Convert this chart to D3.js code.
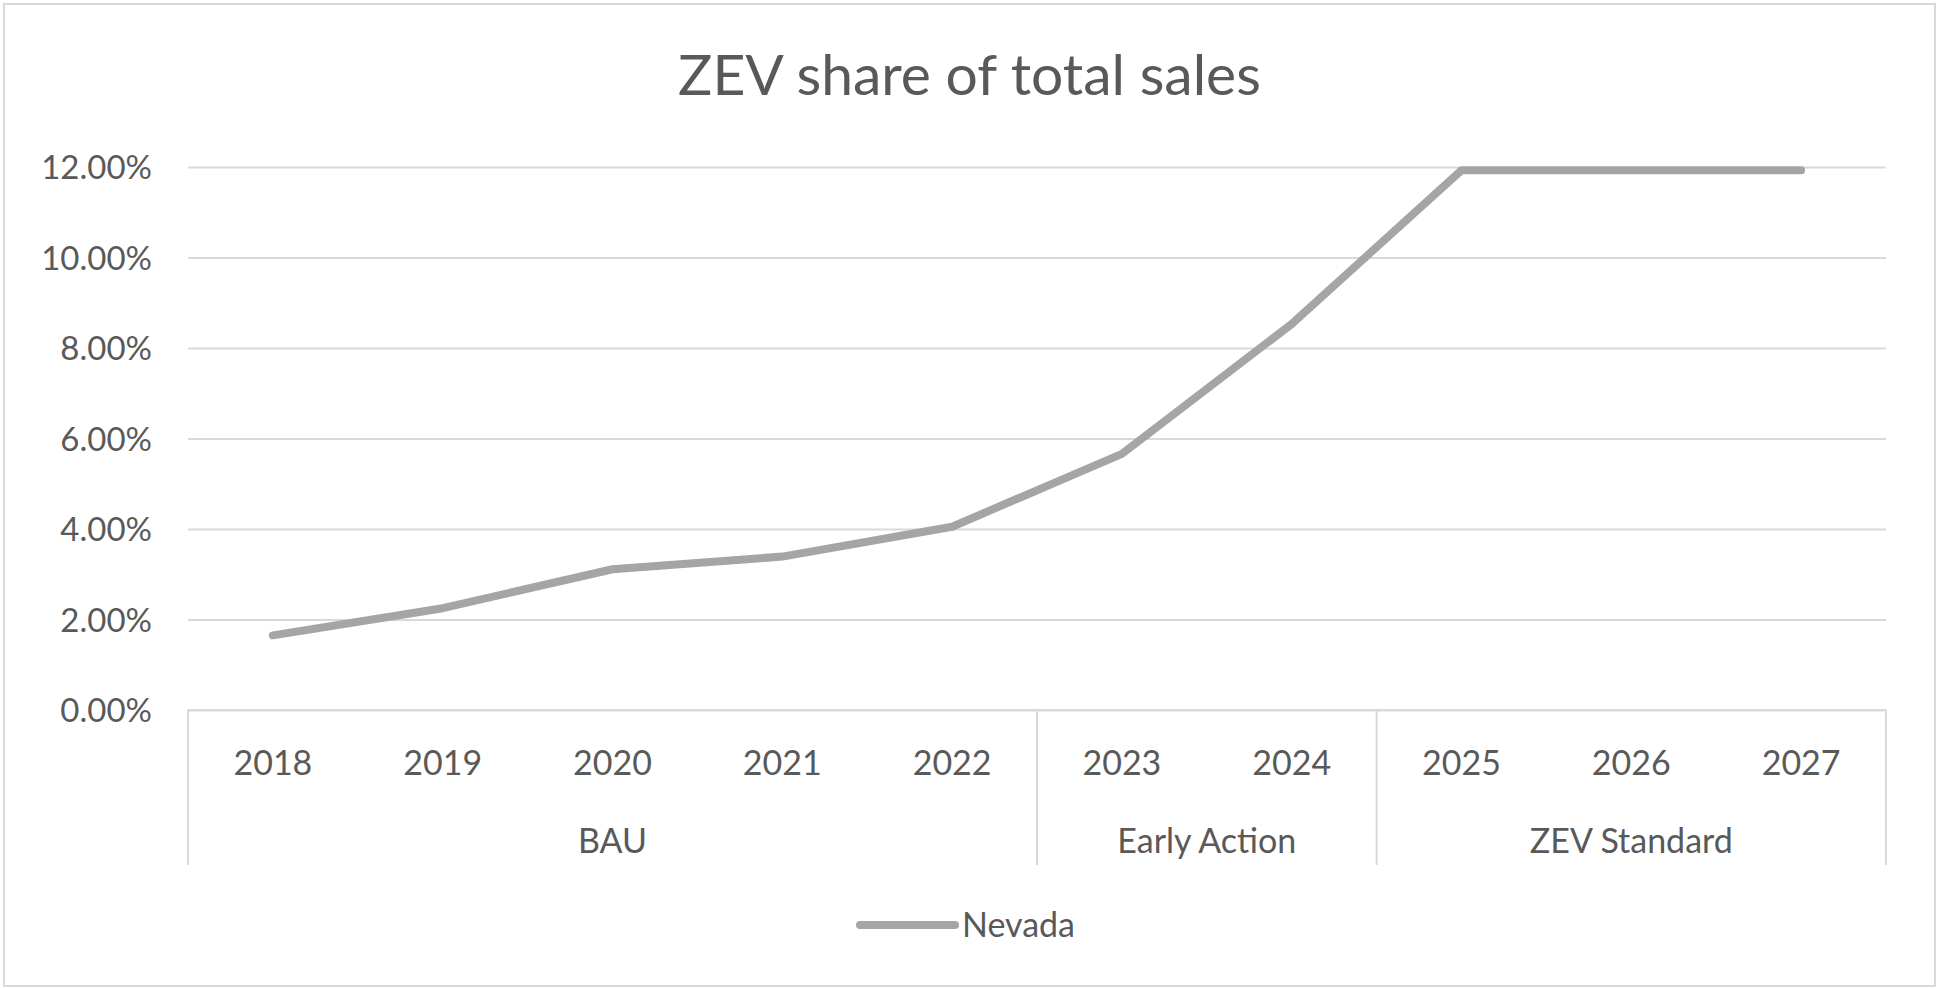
<!DOCTYPE html>
<html>
<head>
<meta charset="utf-8">
<script src="https://cdn.jsdelivr.net/npm/d3@7"></script>
<style>
  body{margin:0;background:#fff;}
  svg{display:block;}
  text{font-family:Lato,"Open Sans",sans-serif;fill:#595959;}
</style>
</head>
<body>
<svg width="1939" height="988"></svg>
<script>
// data
const years = ['2018','2019','2020','2021','2022','2023','2024','2025','2026','2027'];
const scenario = ['BAU','BAU','BAU','BAU','BAU','Early Action','Early Action','ZEV Standard','ZEV Standard','ZEV Standard'];
const nevada = [0.0165,0.0225,0.0311,0.0339,0.0405,0.0566,0.0853,0.1193,0.1193,0.1193];
const yTicks = [0,0.02,0.04,0.06,0.08,0.10,0.12];
const seriesName = 'Nevada';
const chartTitle = 'ZEV share of total sales';

const svg = d3.select('svg');
const width = +svg.attr('width');
const height = +svg.attr('height');
const margin = {top:167,right:53,bottom:278,left:188};
const gridCol = '#d9d9d9';
const lineCol = '#a5a5a5';

// chart border
svg.append('rect')
  .attr('x',4).attr('y',4)
  .attr('width',width-8).attr('height',height-6)
  .attr('fill','none').attr('stroke',gridCol).attr('stroke-width',2);

svg.append('text')
  .attr('x',width/2).attr('y',95)
  .attr('text-anchor','middle')
  .style('font-size','57px')
  .text(chartTitle);

const x = d3.scaleBand()
  .domain(years)
  .range([margin.left, width-margin.right])
  .padding(0);
const y = d3.scaleLinear()
  .domain([0,0.12])
  .range([height-margin.bottom, margin.top]);

/* y axis + gridlines */
const yAxis = d3.axisLeft(y)
  .tickValues(yTicks)
  .tickFormat(d3.format('.2%'))
  .tickSize(-(width-margin.left-margin.right))
  .tickPadding(36);
const gy = svg.append('g')
  .attr('transform',`translate(${margin.left},0)`)
  .call(yAxis);
gy.select('.domain').remove();
gy.selectAll('line').attr('stroke',gridCol).attr('stroke-width',2);
gy.selectAll('text').style('font-size','33px').attr('dy','0.36em').attr('fill','#595959');

/* x axis: years */
const y0 = y(0);
const gx = svg.append('g')
  .attr('transform',`translate(0,${y0})`)
  .call(d3.axisBottom(x).tickSize(0));
gx.select('.domain').remove();
gx.selectAll('text').style('font-size','34px').attr('y',65).attr('dy',0).attr('fill','#595959');

// axis line and group separators
svg.append('line')
  .attr('x1',x.range()[0]).attr('x2',x.range()[1])
  .attr('y1',y0).attr('y2',y0)
  .attr('stroke',gridCol).attr('stroke-width',2);

const groups = [];
scenario.forEach((s,i)=>{
  const last = groups[groups.length-1];
  if(last && last.name===s) last.end=years[i];
  else groups.push({name:s,start:years[i],end:years[i]});
});
const edges = [x(groups[0].start)].concat(groups.map(g=>x(g.end)+x.bandwidth()));
svg.selectAll('.sep')
  .data(edges)
  .enter().append('line')
  .attr('class','sep')
  .attr('x1',d=>d).attr('x2',d=>d)
  .attr('y1',y0).attr('y2',y0+155)
  .attr('stroke',gridCol).attr('stroke-width',2);
svg.selectAll('.grp')
  .data(groups)
  .enter().append('text')
  .attr('class','grp')
  .attr('x',g=>(x(g.start)+x(g.end)+x.bandwidth())/2)
  .attr('y',y0+143)
  .attr('text-anchor','middle')
  .style('font-size','34px')
  .text(g=>g.name);

/* the line */
const line = d3.line()
  .x((d,i)=>x(years[i])+x.bandwidth()/2)
  .y(d=>y(d));
svg.append('path')
  .datum(nevada)
  .attr('d',line)
  .attr('fill','none')
  .attr('stroke',lineCol)
  .attr('stroke-width',8)
  .attr('stroke-linecap','round')
  .attr('stroke-linejoin','round');

/* legend */
const leg = svg.append('g').attr('transform','translate(860,925)');
leg.append('line')
  .attr('x1',0).attr('x2',95)
  .attr('stroke',lineCol).attr('stroke-width',8).attr('stroke-linecap','round');
leg.append('text')
  .attr('x',102).attr('y',12)
  .style('font-size','34px')
  .text(seriesName);
</script>
</body>
</html>
